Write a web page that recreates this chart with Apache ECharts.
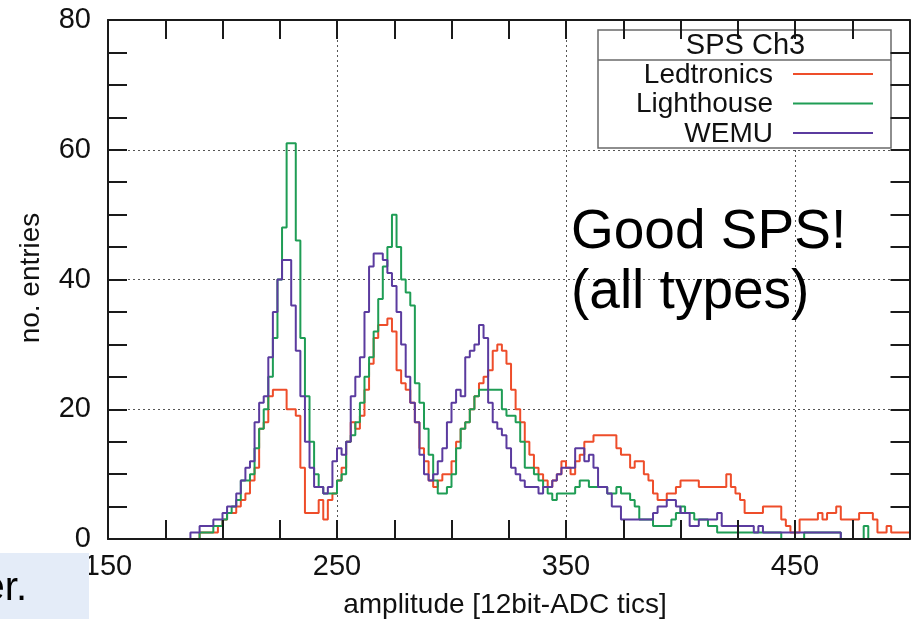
<!DOCTYPE html>
<html>
<head>
<meta charset="utf-8">
<script src="https://cdn.jsdelivr.net/npm/echarts/dist/echarts.min.js"></script>
<style>
  html, body { margin: 0; padding: 0; background: #ffffff; }
  #chart { width: 913px; height: 619px; }
</style>
</head>
<body>
<div id="chart"></div>
<script>
// Histogram binning: bins of equal width starting at binStart (ADC tics)
const binStart = 186;
const binWidth = 2;

const seriesNames = ['Ledtronics', 'Lighthouse', 'WEMU'];
const seriesColors = ['#ee4d2a', '#1f9d55', '#5b3b9f'];

// entries per bin, SPS channel 3
const ledtronics = [
  0, 0, 1, 1, 1, 1, 2, 3, 4, 4,
  5, 6, 7, 9, 11, 17, 18, 22, 23, 23,
  23, 20, 20, 19, 11, 4, 4, 4, 6, 3,
  6, 7, 9, 11, 15, 18, 17, 19, 23, 27,
  31, 33, 33, 34, 32, 26, 24, 23, 21, 18,
  14, 12, 9, 8, 9, 10, 10, 12, 15, 17,
  18, 20, 22, 24, 25, 26, 29, 30, 29, 27,
  23, 20, 18, 15, 13, 11, 10, 9, 8, 9,
  10, 12, 11, 10, 12, 13, 15, 15, 16, 16,
  16, 16, 16, 14, 13, 13, 11, 12, 12, 10,
  9, 7, 6, 6, 7, 7, 8, 9, 9, 9,
  9, 8, 8, 8, 8, 8, 8, 10, 8, 7,
  6, 4, 4, 4, 4, 5, 5, 5, 5, 3,
  2, 1, 1, 3, 3, 3, 3, 4, 3, 4,
  4, 5, 3, 3, 3, 3, 4, 4, 4, 3,
  1, 1, 2, 1, 1, 1, 1
];
const lighthouse = [
  0, 0, 1, 1, 1, 2, 2, 3, 4, 5,
  6, 9, 9, 10, 14, 17, 20, 25, 31, 40,
  48, 61, 61, 46, 31, 22, 15, 10, 8, 7,
  7, 7, 9, 10, 15, 16, 18, 21, 25, 28,
  32, 37, 42, 45, 50, 45, 40, 38, 36, 24,
  21, 17, 13, 9, 7, 7, 8, 10, 14, 17,
  18, 20, 22, 23, 23, 23, 23, 23, 20, 19,
  19, 18, 15, 11, 11, 10, 9, 8, 7, 6,
  7, 7, 7, 7, 8, 9, 9, 8, 8, 8,
  8, 7, 7, 8, 7, 7, 6, 5, 3, 3,
  3, 2, 2, 2, 2, 3, 4, 5, 4, 4,
  3, 3, 3, 2, 2, 1, 1, 1, 1, 1,
  1, 1, 1, 1, 1, 1, 1, 1, 1, 0,
  0, 0, 0, 0, 1, 1, 1, 1, 1, 1,
  1, 1, 0, 0, 0, 0, 0, 2, 0, 0,
  0, 0, 0, 0, 0, 0, 0
];
const wemu = [
  1, 1, 2, 2, 2, 3, 3, 4, 5, 5,
  7, 9, 11, 12, 18, 21, 22, 28, 35, 40,
  43, 43, 36, 29, 22, 15, 11, 8, 8, 7,
  8, 12, 14, 13, 15, 22, 25, 28, 35, 42,
  44, 44, 43, 41, 39, 35, 30, 25, 21, 18,
  13, 10, 9, 10, 12, 14, 18, 21, 23, 22,
  28, 29, 30, 33, 31, 21, 18, 17, 16, 14,
  11, 10, 9, 8, 8, 8, 7, 8, 8, 9,
  10, 11, 11, 11, 14, 14, 12, 13, 11, 8,
  8, 7, 5, 5, 3, 3, 3, 3, 3, 3,
  3, 4, 5, 5, 6, 6, 5, 4, 4, 2,
  2, 3, 3, 3, 3, 4, 2, 2, 2, 2,
  2, 2, 2, 1, 2, 1, 1, 1, 1, 1,
  1, 1, 1, 1, 1, 1, 1, 1, 1, 1,
  1, 1, 0, 0, 0, 0, 0, 0, 0, 0,
  0, 0, 0, 0, 0, 0, 0
];
const seriesCounts = [ledtronics, lighthouse, wemu];

// axis ranges and labelled ticks
const xRange = [150, 500];
const yRange = [0, 80];
const xTickLabels = [150, 250, 350, 450];
const yTickLabels = [0, 20, 40, 60, 80];
const xTickStep = 25;   // every tick mark along x
const yTickStep = 5;    // every tick mark along y
const xGridStep = 100;
const yGridStep = 20;

const xTitle = 'amplitude [12bit-ADC tics]';
const yTitle = 'no. entries';
const legendTitle = 'SPS Ch3';
const noteLines = ['Good SPS!', '(all types)'];
const cornerText = 'er.';

const FONT = '"Liberation Sans", Arial, Helvetica, sans-serif';
const INK = '#1a1a1a';

// histogram counts -> step outline points [left edge, count]
function histSteps(counts) {
  const pts = [[binStart, 0]];
  counts.forEach((c, i) => pts.push([binStart + i * binWidth, c]));
  pts.push([binStart + counts.length * binWidth, counts[counts.length - 1]]);
  return pts;
}

const tickStyle = { color: INK, width: 2 };

function tickAxis(kind, position, showLabels) {
  const isX = kind === 'x';
  const range = isX ? xRange : yRange;
  const labels = isX ? xTickLabels : yTickLabels;
  return {
    type: 'value',
    position: position,
    min: range[0],
    max: range[1],
    interval: isX ? xTickStep : yTickStep,
    z: 3,
    axisLine: { show: true, onZero: false, lineStyle: { color: INK, width: 2 } },
    axisTick: { show: true, inside: true, length: 19, lineStyle: tickStyle },
    minorTick: { show: false },
    splitLine: { show: false },
    axisLabel: {
      show: showLabels,
      color: '#111',
      fontSize: 29,
      fontFamily: FONT,
      margin: isX ? 13 : 17,
      formatter: v => (labels.indexOf(v) >= 0 ? String(v) : '')
    }
  };
}

function gridAxis(kind) {
  const isX = kind === 'x';
  const range = isX ? xRange : yRange;
  return {
    type: 'value',
    position: isX ? 'bottom' : 'left',
    min: range[0],
    max: range[1],
    interval: isX ? xGridStep : yGridStep,
    z: 0,
    axisLine: { show: false },
    axisTick: { show: false },
    axisLabel: { show: false },
    splitLine: { show: true, lineStyle: { color: '#555', width: 1, type: [2, 3] } }
  };
}

const chart = echarts.init(document.getElementById('chart'), null, { renderer: 'canvas' });

// legend box drawn at the top right of the plot
const legendBox = { x: 598, y: 30, w: 293, h: 118, head: 30, textRight: 773, lineFrom: 793, lineTo: 873, rowStart: 74, rowStep: 29.5 };
const legendElements = [
  { type: 'rect', z: 1, shape: { x: legendBox.x, y: legendBox.y, width: legendBox.w, height: legendBox.h },
    style: { fill: '#ffffff', stroke: '#6a6a6a', lineWidth: 1.5 } },
  { type: 'line', z: 1, shape: { x1: legendBox.x, y1: legendBox.y + legendBox.head, x2: legendBox.x + legendBox.w, y2: legendBox.y + legendBox.head },
    style: { stroke: '#6a6a6a', lineWidth: 1.5 } },
  { type: 'text', z: 4, x: legendBox.x + legendBox.w / 2 + 1, y: legendBox.y + legendBox.head / 2 + 1,
    style: { text: legendTitle, fontSize: 29, fontFamily: FONT, fill: '#111', align: 'center', verticalAlign: 'middle' } }
];
seriesNames.forEach((name, i) => {
  const yRow = legendBox.rowStart + i * legendBox.rowStep;
  legendElements.push({ type: 'text', z: 4, x: legendBox.textRight, y: yRow + 1,
    style: { text: name, fontSize: 28, fontFamily: FONT, fill: '#111', align: 'right', verticalAlign: 'middle' } });
  legendElements.push({ type: 'line', z: 4, shape: { x1: legendBox.lineFrom, y1: yRow, x2: legendBox.lineTo, y2: yRow },
    style: { stroke: seriesColors[i], lineWidth: 2 } });
});

const option = {
  animation: false,
  backgroundColor: '#ffffff',
  grid: { left: 108, right: 3.5, top: 20, bottom: 80, containLabel: false },
  xAxis: [ tickAxis('x', 'bottom', true), tickAxis('x', 'top', false), gridAxis('x') ],
  yAxis: [ tickAxis('y', 'left', true), tickAxis('y', 'right', false), gridAxis('y') ],
  series: seriesNames.map((name, i) => ({
    name: name,
    type: 'line',
    step: 'end',
    xAxisIndex: 0,
    yAxisIndex: 0,
    showSymbol: false,
    symbol: 'none',
    z: 2 + i * 0.1,
    lineStyle: { color: seriesColors[i], width: 2 },
    itemStyle: { color: seriesColors[i] },
    data: histSteps(seriesCounts[i])
  })),
  graphic: {
    elements: legendElements.concat([
      { type: 'text', z: 4, x: 505, y: 605,
        style: { text: xTitle, fontSize: 28, fontFamily: FONT, fill: '#111', align: 'center', verticalAlign: 'middle' } },
      { type: 'text', z: 4, x: 31, y: 278, rotation: Math.PI / 2,
        style: { text: yTitle, fontSize: 28, fontFamily: FONT, fill: '#111', align: 'center', verticalAlign: 'middle' } },
      { type: 'text', z: 5, x: 571, y: 233,
        style: { text: noteLines[0], fontSize: 55, fontFamily: FONT, fill: '#000', align: 'left', verticalAlign: 'middle' } },
      { type: 'text', z: 5, x: 571, y: 293,
        style: { text: noteLines[1], fontSize: 55, fontFamily: FONT, fill: '#000', align: 'left', verticalAlign: 'middle' } },
      { type: 'rect', z: 10, shape: { x: 0, y: 553, width: 89, height: 66 },
        style: { fill: '#e4ecf8' } },
      { type: 'text', z: 11, x: 27, y: 589,
        style: { text: cornerText, fontSize: 40, fontFamily: FONT, fill: '#000', align: 'right', verticalAlign: 'middle' } }
    ])
  }
};

chart.setOption(option);
</script>
</body>
</html>
